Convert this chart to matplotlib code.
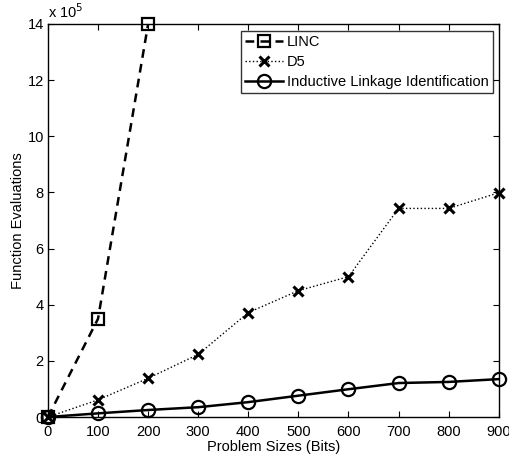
import matplotlib.pyplot as plt
from matplotlib.ticker import FuncFormatter

plt.rcParams['font.family'] = ['Liberation Sans', 'DejaVu Sans']

sizes_linc = [0, 100, 200]
linc = [0, 3.5e5, 14e5]

sizes = [0, 100, 200, 300, 400, 500, 600, 700, 800, 900]
d5 = [0, 0.61e5, 1.38e5, 2.23e5, 3.72e5, 4.5e5, 5.0e5, 7.43e5, 7.43e5, 7.99e5]
ili = [0, 0.13e5, 0.25e5, 0.35e5, 0.53e5, 0.76e5, 0.99e5, 1.21e5, 1.25e5, 1.35e5]

xticks = [0, 100, 200, 300, 400, 500, 600, 700, 800, 900]
yticks = [0, 2e5, 4e5, 6e5, 8e5, 10e5, 12e5, 14e5]

fig = plt.figure(figsize=(5.10, 4.57), dpi=100)
ax = fig.add_axes([0.094, 0.0875, 0.884, 0.86])

ax.plot(sizes_linc, linc, color='black', linestyle=(0, (3.5, 2.5)), linewidth=1.8,
        marker='s', markersize=8, markerfacecolor='none', markeredgewidth=1.6,
        label='LINC', clip_on=False, zorder=3)
ax.plot(sizes, d5, color='black', linestyle=':', linewidth=1.0,
        marker='x', markersize=6.5, markeredgewidth=2.2,
        label='D5', clip_on=False, zorder=3)
ax.plot(sizes, ili, color='black', linestyle='-', linewidth=1.8,
        marker='o', markersize=9.5, markerfacecolor='none', markeredgewidth=1.6,
        label='Inductive Linkage Identification', clip_on=False, zorder=3)

ax.set_xlim(0, 900)
ax.set_ylim(0, 14e5)
ax.set_xticks(xticks)
ax.set_yticks(yticks)
ax.yaxis.set_major_formatter(FuncFormatter(lambda v, p: '%g' % (v / 1e5)))
ax.tick_params(direction='in', top=True, right=True, length=4, width=0.8,
               labelsize=10.5, pad=3)
ax.tick_params(axis='x', pad=6)
for s in ax.spines.values():
    s.set_linewidth(1.0)

ax.text(0.0, 1.008, 'x 10$^5$', transform=ax.transAxes, fontsize=10.5,
        ha='left', va='bottom')

ax.set_xlabel('Problem Sizes (Bits)', fontsize=10.5, labelpad=0.5)
ax.set_ylabel('Function Evaluations', fontsize=10.5, labelpad=2)

leg = ax.legend(loc='upper right', bbox_to_anchor=(0.988, 0.983), fontsize=10.5,
                frameon=True, fancybox=False, handlelength=2.6,
                borderpad=0.3, labelspacing=0.4, handletextpad=0.3,
                borderaxespad=0)
leg.get_frame().set_edgecolor('black')
leg.get_frame().set_linewidth(1.0)

fig.savefig('out.png', dpi=100)
